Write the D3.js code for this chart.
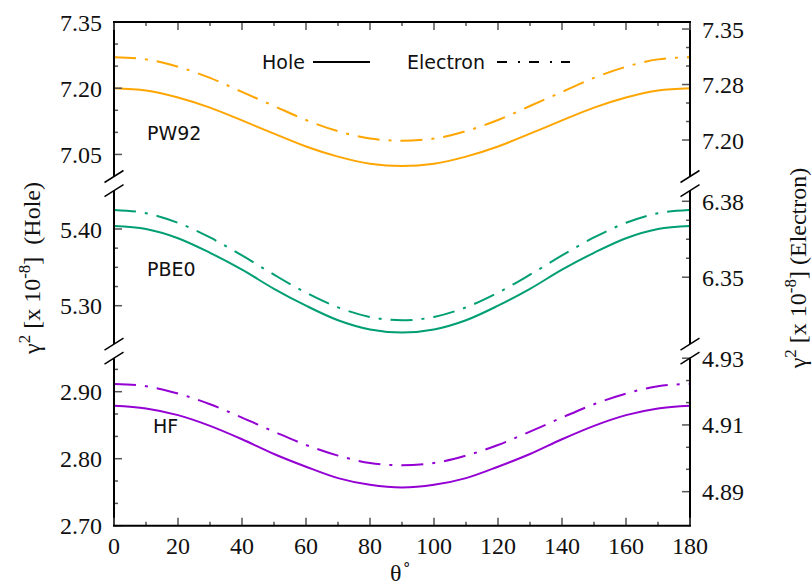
<!DOCTYPE html>
<html>
<head>
<meta charset="utf-8">
<script src="https://cdn.jsdelivr.net/npm/d3@7"></script>
<style>
  body { margin: 0; background: #fff; }
  svg { display: block; }
  .tick-label { font-family: "Liberation Serif", serif; font-size: 24px; fill: #111; }
  .axis-title { font-family: "Liberation Serif", serif; font-size: 24px; fill: #111; }
  .plot-label { font-family: "DejaVu Sans", sans-serif; font-size: 19px; fill: #111; }
</style>
</head>
<body>
<svg id="chart" width="812" height="585"></svg>
<script>
// angle in degrees
const theta = [0, 10, 20, 30, 40, 50, 60, 70, 80, 90, 100, 110, 120, 130, 140, 150, 160, 170, 180];

// gamma^2 values (x 1e-8)
const pw92Hole = [7.200, 7.195, 7.179, 7.156, 7.127, 7.097, 7.068, 7.045, 7.029, 7.024, 7.029, 7.045, 7.068, 7.097, 7.127, 7.156, 7.179, 7.195, 7.200];
const pw92Elec = [7.312, 7.309, 7.299, 7.284, 7.265, 7.246, 7.227, 7.212, 7.202, 7.199, 7.202, 7.212, 7.227, 7.246, 7.265, 7.284, 7.299, 7.309, 7.312];
const pbe0Hole = [5.404, 5.400, 5.388, 5.369, 5.347, 5.322, 5.300, 5.281, 5.269, 5.265, 5.269, 5.281, 5.300, 5.322, 5.347, 5.369, 5.388, 5.400, 5.404];
const pbe0Elec = [6.3766, 6.3753, 6.3715, 6.3657, 6.3586, 6.3510, 6.3439, 6.3381, 6.3343, 6.3330, 6.3343, 6.3381, 6.3439, 6.3510, 6.3586, 6.3657, 6.3715, 6.3753, 6.3766];
const hfHole = [2.879, 2.875, 2.865, 2.849, 2.829, 2.807, 2.788, 2.771, 2.761, 2.757, 2.761, 2.771, 2.788, 2.807, 2.829, 2.849, 2.865, 2.875, 2.879];
const hfElec = [4.9223, 4.9216, 4.9194, 4.9162, 4.9122, 4.9080, 4.9040, 4.9008, 4.8986, 4.8979, 4.8986, 4.9008, 4.9040, 4.9080, 4.9122, 4.9162, 4.9194, 4.9216, 4.9223];

// tick values
const xMajor = [0, 20, 40, 60, 80, 100, 120, 140, 160, 180];
const xMinor = [10, 30, 50, 70, 90, 110, 130, 150, 170];
const pw92LeftMajor = [7.05, 7.20, 7.35];
const pw92LeftMinor = [7.10, 7.15, 7.25, 7.30];
const pw92RightMajor = [7.20, 7.275, 7.35];
const pw92RightMinor = [7.225, 7.25, 7.30, 7.325];
const pbe0LeftMajor = [5.30, 5.40];
const pbe0LeftMinor = [5.325, 5.35, 5.375];
const pbe0RightMajor = [6.35, 6.38];
const pbe0RightMinor = [6.3575, 6.365, 6.3725];
const hfLeftMajor = [2.70, 2.80, 2.90];
const hfLeftMinor = [2.7333, 2.7667, 2.8333, 2.8667, 2.9333];
const hfRightMajor = [4.89, 4.91, 4.93];
const hfRightMinor = [4.8967, 4.9033, 4.9167, 4.9233];

const svg = d3.select("#chart");
const plotLeft = 114, plotRight = 690, plotTop = 22, plotBottom = 525.7;
const x = d3.scaleLinear().domain([0, 180]).range([plotLeft, plotRight]);

const colors = { pw92: "#ffa500", pbe0: "#009e73", hf: "#9400d3" };
const majorLen = 8, minorLen = 4;

const panels = [
  { name: "PW92", color: colors.pw92, hole: pw92Hole, elec: pw92Elec, y0: 22, y1: 176.5,
    leftDomain: [7.0, 7.35], rightDomain: [7.1507, 7.3595],
    lMaj: pw92LeftMajor, lMin: pw92LeftMinor, rMaj: pw92RightMajor, rMin: pw92RightMinor,
    label: [147, 140] },
  { name: "PBE0", color: colors.pbe0, hole: pbe0Hole, elec: pbe0Elec, y0: 190.65, y1: 344.05,
    leftDomain: [5.25, 5.45], rightDomain: [6.3236, 6.3842],
    lMaj: pbe0LeftMajor, lMin: pbe0LeftMinor, rMaj: pbe0RightMajor, rMin: pbe0RightMinor,
    label: [147, 276] },
  { name: "HF", color: colors.hf, hole: hfHole, elec: hfElec, y0: 358.2, y1: 525.7,
    leftDomain: [2.70, 2.95], rightDomain: [4.8798, 4.930],
    lMaj: hfLeftMajor, lMin: hfLeftMinor, rMaj: hfRightMajor, rMin: hfRightMinor,
    label: [153, 433] }
];

const fmt2 = d3.format(".2f");
const g = svg.append("g");

panels.forEach(p => {
  const yl = d3.scaleLinear().domain(p.leftDomain).range([p.y1, p.y0]);
  const yr = d3.scaleLinear().domain(p.rightDomain).range([p.y1, p.y0]);

  // curves
  const holeLine = d3.line().x((d, i) => x(theta[i])).y(d => yl(d)).curve(d3.curveMonotoneX);
  const elecLine = d3.line().x((d, i) => x(theta[i])).y(d => yr(d)).curve(d3.curveMonotoneX);
  g.append("path").attr("d", holeLine(p.hole))
    .attr("fill", "none").attr("stroke", p.color).attr("stroke-width", 2);
  g.append("path").attr("d", elecLine(p.elec))
    .attr("fill", "none").attr("stroke", p.color).attr("stroke-width", 2)
    .attr("stroke-dasharray", "22,9,3,9");

  // left ticks
  p.lMaj.concat(p.lMin).forEach(v => {
    const len = p.lMaj.includes(v) ? majorLen : minorLen;
    g.append("line").attr("x1", plotLeft).attr("x2", plotLeft + len)
      .attr("y1", yl(v)).attr("y2", yl(v))
      .attr("stroke", "#555").attr("stroke-width", 1.5);
  });
  g.selectAll(null).data(p.lMaj).enter().append("text")
    .attr("class", "tick-label").attr("text-anchor", "end")
    .attr("x", plotLeft - 12).attr("y", d => yl(d) + 8.5)
    .text(d => fmt2(d));

  // right ticks
  p.rMaj.concat(p.rMin).forEach(v => {
    const len = p.rMaj.includes(v) ? majorLen : minorLen;
    g.append("line").attr("x1", plotRight).attr("x2", plotRight - len)
      .attr("y1", yr(v)).attr("y2", yr(v))
      .attr("stroke", "#555").attr("stroke-width", 1.5);
  });
  g.selectAll(null).data(p.rMaj).enter().append("text")
    .attr("class", "tick-label").attr("text-anchor", "start")
    .attr("x", plotRight + 12).attr("y", d => yr(d) + 8.5)
    .text(d => fmt2(d));

  // axis lines for the panel
  [plotLeft, plotRight].forEach(ax => {
    g.append("line").attr("x1", ax).attr("x2", ax)
      .attr("y1", p.y0).attr("y2", p.y1)
      .attr("stroke", "#000").attr("stroke-width", 2);
  });

  g.append("text").attr("class", "plot-label")
    .attr("x", p.label[0]).attr("y", p.label[1]).text(p.name);
});

// break marks
[176.5, 190.65, 344.05, 358.2].forEach(yb => {
  [plotLeft, plotRight].forEach(ax => {
    g.append("line").attr("x1", ax - 9.5).attr("x2", ax + 9.5)
      .attr("y1", yb + 6).attr("y2", yb - 6)
      .attr("stroke", "#000").attr("stroke-width", 1.5);
  });
});

// x ticks (bottom and top)
xMajor.concat(xMinor).forEach(v => {
  const len = xMajor.includes(v) ? majorLen : minorLen;
  g.append("line").attr("x1", x(v)).attr("x2", x(v))
    .attr("y1", plotBottom).attr("y2", plotBottom - len)
    .attr("stroke", "#555").attr("stroke-width", 1.5);
  g.append("line").attr("x1", x(v)).attr("x2", x(v))
    .attr("y1", plotTop).attr("y2", plotTop + len)
    .attr("stroke", "#555").attr("stroke-width", 1.5);
});
g.selectAll(null).data(xMajor).enter().append("text")
  .attr("class", "tick-label").attr("text-anchor", "middle")
  .attr("x", d => x(d)).attr("y", 554)
  .text(d => d);

// top and bottom borders
g.append("line").attr("x1", plotLeft - 1).attr("x2", plotRight + 1).attr("y1", plotTop).attr("y2", plotTop)
  .attr("stroke", "#000").attr("stroke-width", 2);
g.append("line").attr("x1", plotLeft - 1).attr("x2", plotRight + 1).attr("y1", plotBottom).attr("y2", plotBottom)
  .attr("stroke", "#000").attr("stroke-width", 2);

// legend
g.append("text").attr("class", "plot-label").attr("x", 262).attr("y", 69).text("Hole");
g.append("line").attr("x1", 313).attr("x2", 370).attr("y1", 62).attr("y2", 62)
  .attr("stroke", "#000").attr("stroke-width", 2);
g.append("text").attr("class", "plot-label").attr("x", 407).attr("y", 69).text("Electron");
g.append("line").attr("x1", 497).attr("x2", 570).attr("y1", 62).attr("y2", 62)
  .attr("stroke", "#000").attr("stroke-width", 2).attr("stroke-dasharray", "10,11,2,9");

// axis titles
function yTitle(tx, ty, tail) {
  const t = g.append("text").attr("class", "axis-title").attr("text-anchor", "middle")
    .attr("transform", `translate(${tx},${ty}) rotate(-90)`);
  t.append("tspan").text("γ");
  t.append("tspan").attr("dy", -10).attr("font-size", 17).text("2");
  t.append("tspan").attr("dy", 10).text(" [x 10");
  t.append("tspan").attr("dy", -10).attr("font-size", 17).text("-8");
  t.append("tspan").attr("dy", 10).text("]" + tail);
}
yTitle(40, 268, "\u00a0 (Hole)");
yTitle(806, 268, " (Electron)");

const xt = g.append("text").attr("class", "axis-title").attr("x", 390).attr("y", 581);
xt.append("tspan").text("θ");
xt.append("tspan").attr("dy", -12).attr("font-size", 15).text("∘");
</script>
</body>
</html>
